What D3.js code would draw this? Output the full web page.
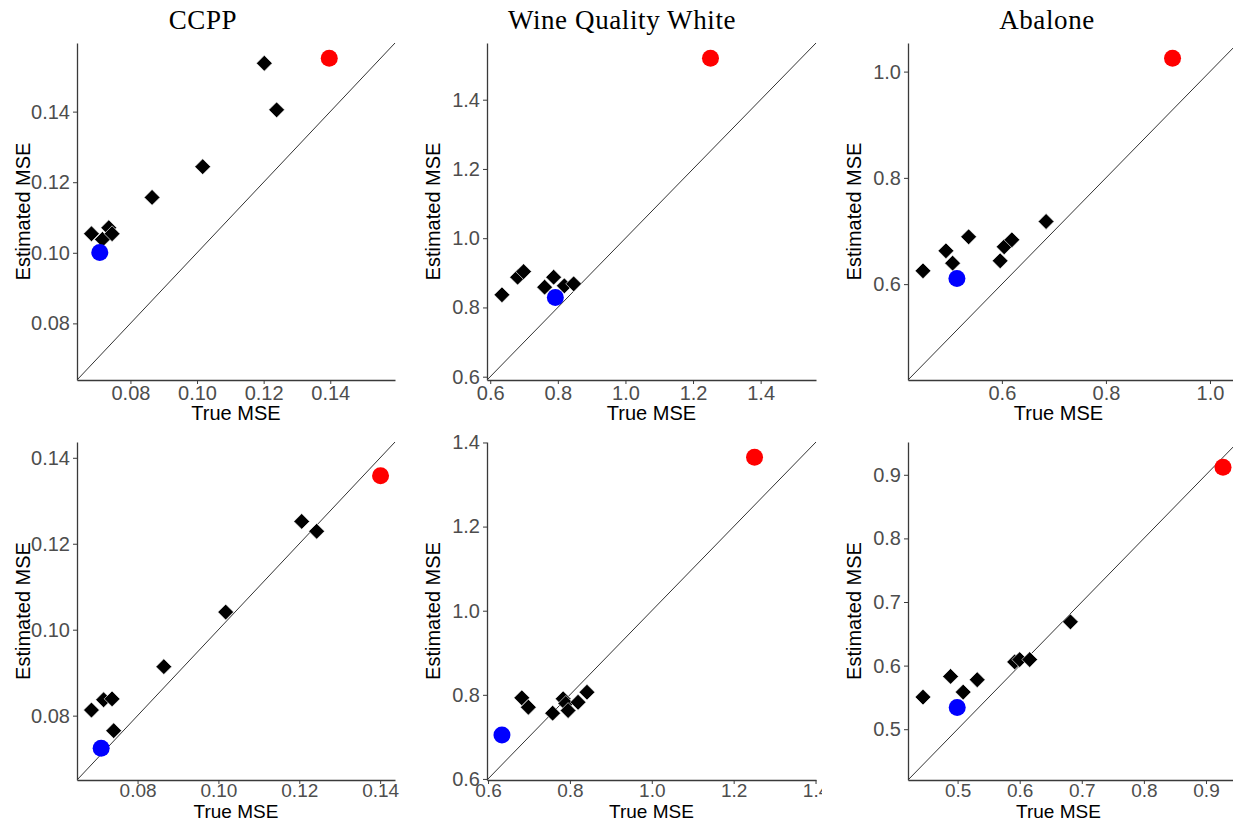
<!DOCTYPE html>
<html>
<head>
<meta charset="utf-8">
<script src="https://cdn.jsdelivr.net/npm/d3@7"></script>
<style>
  html, body { margin: 0; padding: 0; background: #fff; }
  svg { display: block; }
</style>
</head>
<body>
<svg id="chart" width="1233" height="822"></svg>
<script>
// ---------------- data ----------------
const titles = ["CCPP", "Wine Quality White", "Abalone"];

// CCPP
const ccppTopDiamondTrue = [0.0683, 0.0716, 0.0735, 0.0745, 0.0865, 0.1017, 0.1202, 0.1239];
const ccppTopDiamondEst  = [0.1054, 0.1038, 0.1071, 0.1054, 0.1157, 0.1244, 0.1537, 0.1405];
const ccppTopBlue = [0.0708, 0.1001];
const ccppTopRed  = [0.1397, 0.1551];
const ccppBotDiamondTrue = [0.0686, 0.0716, 0.0737, 0.0741, 0.0865, 0.1018, 0.1206, 0.1243];
const ccppBotDiamondEst  = [0.0813, 0.0837, 0.0839, 0.0765, 0.0914, 0.1041, 0.1252, 0.1229];
const ccppBotBlue = [0.0710, 0.0724];
const ccppBotRed  = [0.1401, 0.1358];
const ccppTicks = [0.08, 0.10, 0.12, 0.14];

// Wine Quality White
const wineTopDiamondTrue = [0.6347, 0.681, 0.6987, 0.7609, 0.7876, 0.8193, 0.8468];
const wineTopDiamondEst  = [0.8365, 0.8873, 0.9035, 0.8586, 0.8873, 0.8624, 0.8681];
const wineTopBlue = [0.7926, 0.8287];
const wineTopRed  = [1.2516, 1.5195];
const wineBotDiamondTrue = [0.6825, 0.6985, 0.7578, 0.7835, 0.790, 0.7956, 0.8199, 0.8417];
const wineBotDiamondEst  = [0.7929, 0.7705, 0.7563, 0.7905, 0.7795, 0.7627, 0.7824, 0.8062];
const wineBotBlue = [0.634, 0.7045];
const wineBotRed  = [1.251, 1.3646];
const wineTicks = [0.6, 0.8, 1.0, 1.2, 1.4];

// Abalone
const abaTopDiamondTrue = [0.4484, 0.4925, 0.5053, 0.5361, 0.5967, 0.6044, 0.6192, 0.685];
const abaTopDiamondEst  = [0.625, 0.6627, 0.6395, 0.6891, 0.6439, 0.6702, 0.6834, 0.7179];
const abaTopBlue = [0.5136, 0.6105];
const abaTopRed  = [0.928, 1.025];
const abaBotDiamondTrue = [0.4443, 0.4887, 0.509, 0.5316, 0.5919, 0.6, 0.6161, 0.6817];
const abaBotDiamondEst  = [0.5505, 0.583, 0.5584, 0.5778, 0.6058, 0.6095, 0.6095, 0.6688];
const abaBotBlue = [0.4994, 0.5341];
const abaBotRed  = [0.9274, 0.9117];
const abaTopTicks = [0.6, 0.8, 1.0];
const abaBotTicks = [0.5, 0.6, 0.7, 0.8, 0.9];

const xTitle = "True MSE";
const yTitle = "Estimated MSE";

// ---------------- layout ----------------
const colLeft  = [77, 487, 908];
const colRight = [395, 816, 1238];
const rowTop    = [43, 442];
const rowBottom = [380, 780];
const xTitleOffset = [40, 38];
const xTickPad = [2, 0];
const xTickFont = [20, 19];
const xTitleFont = [20, 19];
const cellX = [0, 410, 822, 1233];
const cellY = [0, 430, 822];
const titleX = [203, 622, 1047];

const panels = [
  {row:0, col:0, dt:ccppTopDiamondTrue, de:ccppTopDiamondEst, blue:ccppTopBlue, red:ccppTopRed, ticks:ccppTicks, fmt:".2f"},
  {row:0, col:1, dt:wineTopDiamondTrue, de:wineTopDiamondEst, blue:wineTopBlue, red:wineTopRed, ticks:wineTicks, fmt:".1f"},
  {row:0, col:2, dt:abaTopDiamondTrue,  de:abaTopDiamondEst,  blue:abaTopBlue,  red:abaTopRed,  ticks:abaTopTicks, fmt:".1f"},
  {row:1, col:0, dt:ccppBotDiamondTrue, de:ccppBotDiamondEst, blue:ccppBotBlue, red:ccppBotRed, ticks:ccppTicks, fmt:".2f"},
  {row:1, col:1, dt:wineBotDiamondTrue, de:wineBotDiamondEst, blue:wineBotBlue, red:wineBotRed, ticks:wineTicks, fmt:".1f"},
  {row:1, col:2, dt:abaBotDiamondTrue,  de:abaBotDiamondEst,  blue:abaBotBlue,  red:abaBotRed,  ticks:abaBotTicks, fmt:".1f"},
];

const svg = d3.select("#chart");
const defs = svg.append("defs");
const sansFont = "'Liberation Sans', Arial, sans-serif";

// titles
titles.forEach((t, i) => {
  svg.append("text")
    .attr("x", titleX[i]).attr("y", 29)
    .attr("text-anchor", "middle")
    .style("font-family", "'Liberation Serif', 'DejaVu Serif', serif")
    .style("font-size", "27px")
    .style("letter-spacing", "0.6px")
    .attr("fill", "#000")
    .text(t);
});

const diamond = d3.symbol().type(d3.symbolSquare).size(125);

panels.forEach((p, idx) => {
  const clipId = "clip" + idx;
  defs.append("clipPath").attr("id", clipId)
    .append("rect")
    .attr("x", cellX[p.col]).attr("y", cellY[p.row])
    .attr("width", cellX[p.col+1] - cellX[p.col])
    .attr("height", cellY[p.row+1] - cellY[p.row]);

  const g = svg.append("g").attr("clip-path", `url(#${clipId})`);

  const allVals = p.dt.concat(p.de, p.blue, p.red);
  const [mn, mx] = d3.extent(allVals);
  const pad = (mx - mn) * 0.05;
  const dom = [mn - pad, mx + pad];

  const L = colLeft[p.col], R = colRight[p.col], T = rowTop[p.row], B = rowBottom[p.row];
  const x = d3.scaleLinear().domain(dom).range([L, R]);
  const y = d3.scaleLinear().domain(dom).range([B, T]);

  // diagonal y = x
  g.append("line")
    .attr("x1", x(dom[0])).attr("y1", y(dom[0]))
    .attr("x2", x(dom[1])).attr("y2", y(dom[1]))
    .attr("stroke", "#333").attr("stroke-width", 1);

  // axes
  const xAxis = d3.axisBottom(x).tickValues(p.ticks).tickFormat(d3.format(p.fmt))
    .tickSize(4).tickSizeOuter(0).tickPadding(xTickPad[p.row]);
  const yAxis = d3.axisLeft(y).tickValues(p.ticks).tickFormat(d3.format(p.fmt))
    .tickSize(4).tickSizeOuter(0).tickPadding(3);

  const gx = g.append("g").attr("transform", `translate(0,${B})`).call(xAxis);
  const gy = g.append("g").attr("transform", `translate(${L},0)`).call(yAxis);
  [gx, gy].forEach(a => {
    a.select(".domain").attr("stroke", "#3a3a3a").attr("stroke-width", 1.3);
    a.selectAll(".tick line").attr("stroke", "#3a3a3a").attr("stroke-width", 1);
    a.selectAll(".tick text")
      .attr("fill", "#4d4d4d")
      .style("font-family", sansFont)
      .style("font-size", "20px");
  });
  gx.selectAll(".tick text").attr("dy", "0.68em").style("font-size", xTickFont[p.row] + "px");

  // axis titles
  g.append("text")
    .attr("x", (L + Math.min(R, 1233)) / 2 + (p.col === 2 ? -12 : 0))
    .attr("y", B + xTitleOffset[p.row])
    .attr("text-anchor", "middle")
    .style("font-family", sansFont).style("font-size", xTitleFont[p.row] + "px")
    .attr("fill", "#000")
    .text(xTitle);
  g.append("text")
    .attr("transform", `translate(${L - 47},${(T + B) / 2}) rotate(-90)`)
    .attr("text-anchor", "middle")
    .style("font-family", sansFont).style("font-size", "20px")
    .attr("fill", "#000")
    .text(yTitle);

  // diamonds
  const pts = p.dt.map((v, i) => [v, p.de[i]]);
  g.selectAll(".dia").data(pts).enter().append("path")
    .attr("d", diamond)
    .attr("transform", d => `translate(${x(d[0])},${y(d[1])}) rotate(45)`)
    .attr("fill", "#000").attr("stroke", "#fff").attr("stroke-width", 0.6);

  // blue and red points
  g.append("circle").attr("cx", x(p.blue[0])).attr("cy", y(p.blue[1]))
    .attr("r", 8.5).attr("fill", "#0000ff");
  g.append("circle").attr("cx", x(p.red[0])).attr("cy", y(p.red[1]))
    .attr("r", 8.5).attr("fill", "#ff0000");
});
</script>
</body>
</html>
